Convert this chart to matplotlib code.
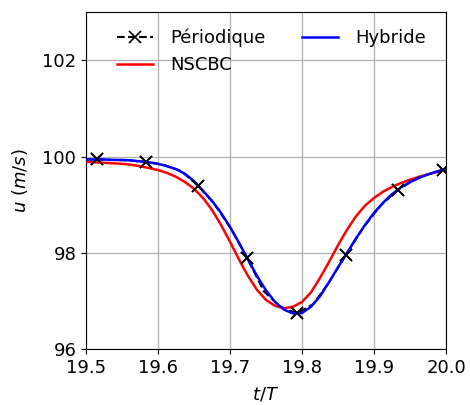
import matplotlib
matplotlib.use('Agg')
import matplotlib.pyplot as plt

# vitesse sur la derniere demi-periode
t = [19.5000, 19.5125, 19.5250, 19.5375, 19.5500, 19.5625, 19.5750, 19.5875,
     19.6000, 19.6125, 19.6250, 19.6375, 19.6500, 19.6625, 19.6750, 19.6875,
     19.7000, 19.7125, 19.7250, 19.7375, 19.7500, 19.7625, 19.7750, 19.7875,
     19.8000, 19.8125, 19.8250, 19.8375, 19.8500, 19.8625, 19.8750, 19.8875,
     19.9000, 19.9125, 19.9250, 19.9375, 19.9500, 19.9625, 19.9750, 19.9875,
     20.0000]

u_nscbc = [99.89, 99.88, 99.87, 99.86, 99.85, 99.83, 99.80, 99.76,
           99.72, 99.66, 99.58, 99.47, 99.33, 99.14, 98.89, 98.58,
           98.23, 97.86, 97.52, 97.23, 97.02, 96.90, 96.85, 96.88,
           96.98, 97.18, 97.48, 97.81, 98.16, 98.48, 98.76, 98.98,
           99.14, 99.27, 99.37, 99.45, 99.52, 99.58, 99.63, 99.68,
           99.73]

u_hyb = [99.94, 99.94, 99.94, 99.93, 99.93, 99.92, 99.90, 99.88,
         99.85, 99.80, 99.74, 99.64, 99.49, 99.29, 99.08, 98.83,
         98.54, 98.21, 97.86, 97.52, 97.22, 96.98, 96.82, 96.74,
         96.75, 96.88, 97.10, 97.39, 97.70, 98.00, 98.30, 98.58,
         98.83, 99.04, 99.22, 99.36, 99.47, 99.56, 99.63, 99.69,
         99.74]

t_per = [19.500, 19.515, 19.538, 19.560, 19.583, 19.607, 19.632, 19.656,
         19.679, 19.701, 19.724, 19.747, 19.770, 19.793, 19.816, 19.838,
         19.861, 19.885, 19.909, 19.933, 19.954, 19.975, 19.996, 20.000]
u_per = [99.94, 99.94, 99.93, 99.92, 99.89, 99.83, 99.70, 99.39,
         99.00, 98.51, 97.89, 97.20, 96.88, 96.74, 96.94, 97.40,
         97.96, 98.52, 98.98, 99.31, 99.50, 99.63, 99.73, 99.74]
marks_per = [1, 4, 7, 10, 13, 16, 19, 22]

fig = plt.figure(figsize=(4.7, 4.05), dpi=100)
ax = fig.add_axes([0.183, 0.138, 0.766, 0.832])

ax.plot(t_per, u_per, 'k--x', lw=1.5, ms=8, mew=1.2, markevery=marks_per,
        label='Périodique', zorder=2)
ax.plot(t, u_nscbc, color='red', lw=1.8, label='NSCBC', zorder=3)
ax.plot(t, u_hyb, color='blue', lw=1.8, label='Hybride', zorder=4)
# les croix par-dessus les courbes
ax.plot([t_per[i] for i in marks_per], [u_per[i] for i in marks_per], 'kx',
        ms=8, mew=1.2, zorder=5)

ax.set_xlim(19.5, 20.0)
ax.set_ylim(96, 103)
ax.set_xticks([19.5, 19.6, 19.7, 19.8, 19.9, 20.0])
ax.set_yticks([96, 98, 100, 102])
ax.tick_params(labelsize=13)
ax.grid(True, color='#b0b0b0', lw=0.9)
ax.set_axisbelow(True)
ax.set_xlabel(r'$t/T$', fontsize=13, labelpad=6)
ax.set_ylabel(r'$u\ (m/s)$', fontsize=13, labelpad=9)
ax.legend(loc='upper center', bbox_to_anchor=(0.515, 1.0), ncol=2,
          frameon=False, fontsize=13, columnspacing=2.0, handlelength=2,
          handletextpad=0.97, borderaxespad=0.5)

fig.savefig('out.png', dpi=100)
